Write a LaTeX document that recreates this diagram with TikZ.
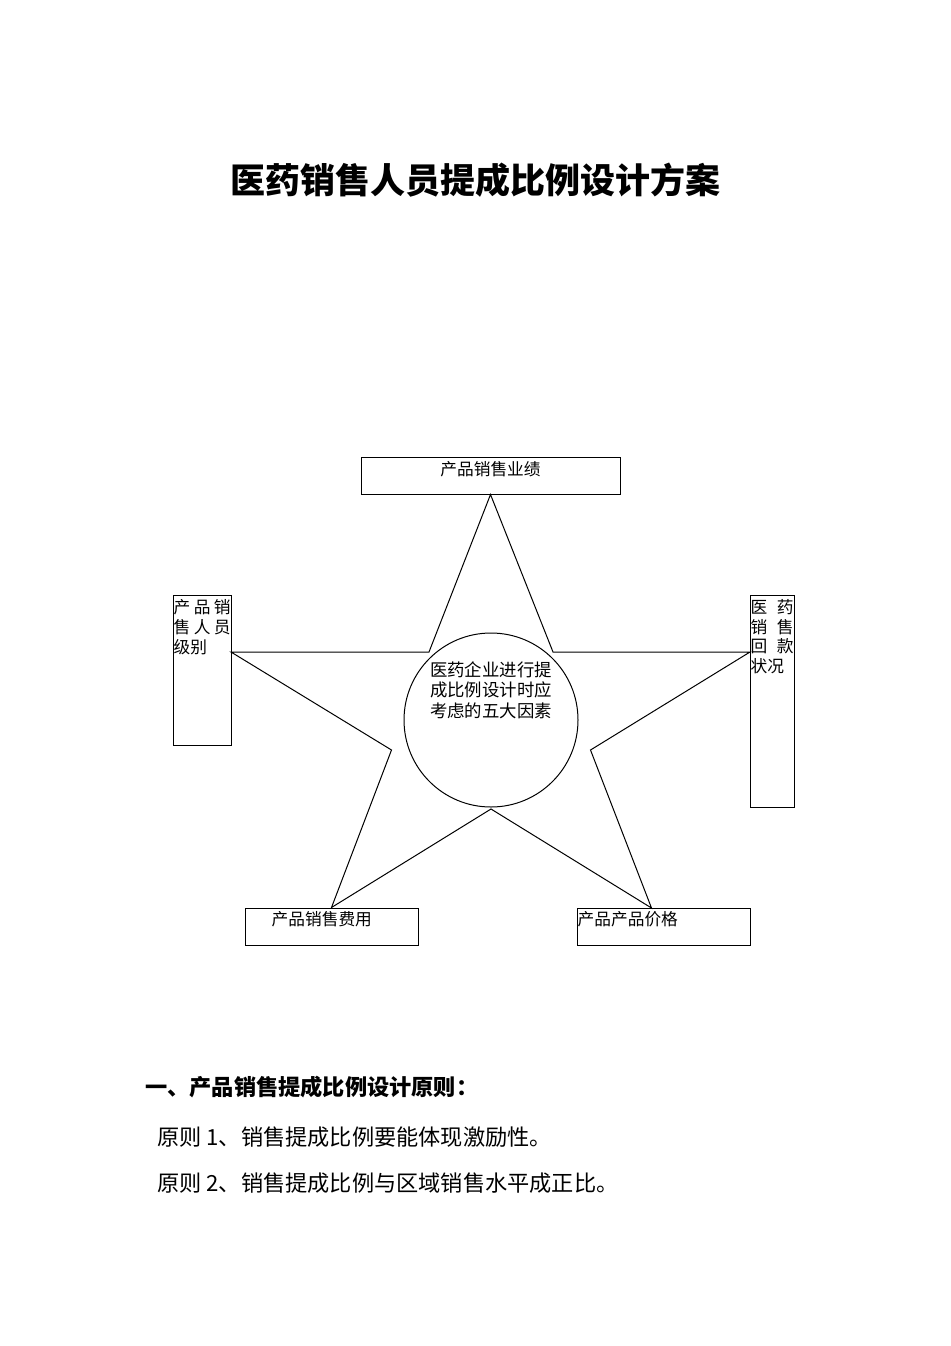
\documentclass[tikz,border=0pt]{standalone}
\usepackage{fontspec}
\setmainfont{Noto Sans CJK SC}

\begin{document}
\begin{tikzpicture}[x=1pt,y=-1pt]
    \tikzstyle{box}=[rectangle,draw,line width=1pt,inner sep=0pt]
    \tikzstyle{lbl}=[inner sep=0pt,font=\fontsize{16.7}{20}\selectfont]
    \tikzstyle{para}=[anchor=west,inner sep=0pt,font=\fontsize{22.2}{26}\selectfont]
    \useasboundingbox (0,0) rectangle (950,1346);
    \node[font=\fontsize{35}{40}\selectfont\bfseries] (title) at (475,180) {医药销售人员提成比例设计方案};
    % the five factors round the star
    \node[box,minimum width=259pt,minimum height=37pt,
      label={[lbl,anchor=north,yshift=-5pt]north:产品销售业绩}] (perf) at (490.5,475.5) {};
    \node[box,minimum width=58pt,minimum height=150pt,
      label={[lbl,anchor=north west,text width=57pt,align=left,xshift=1pt,yshift=-5pt]north west:产\hfill 品\hfill 销\\售\hfill 人\hfill 员\\级别}] (rank) at (202,670) {};
    \node[box,minimum width=44pt,minimum height=212pt,
      label={[lbl,anchor=north west,text width=43pt,align=left,xshift=1pt,yshift=-5pt,font=\fontsize{16.7}{19.5}\selectfont]north west:医\hfill 药\\销\hfill 售\\回\hfill 款\\状况}] (refund) at (772,701) {};
    \node[box,minimum width=173pt,minimum height=37pt,
      label={[lbl,anchor=north west,xshift=27pt,yshift=-4pt]north west:产品销售费用}] (cost) at (331.5,926.5) {};
    \node[box,minimum width=173pt,minimum height=37pt,
      label={[lbl,anchor=north west,xshift=1pt,yshift=-4pt]north west:产品产品价格}] (price) at (663.5,926.5) {};
    \node[circle,draw,line width=1pt,minimum size=174pt,inner sep=0pt,
      label={[lbl,align=center,yshift=30pt,font=\fontsize{17.4}{20.5}\selectfont]center:医药企业进行提\\成比例设计时应\\考虑的五大因素}] (core) at (491,720) {};
    % star
    \coordinate (ul) at (429,652);
    \coordinate (lt) at (231,652);
    \coordinate (ll) at (391.5,750);
    \coordinate (bm) at (491,809);
    \coordinate (br) at (651.5,908);
    \coordinate (lr) at (590.5,750);
    \coordinate (rt) at (750,652);
    \coordinate (ur) at (553,652);
    \draw[line width=1pt] (perf.south) -- (ul) -- (lt) -- (ll) -- (cost.north) -- (bm)
      -- (br) -- (lr) -- (rt) -- (ur) -- cycle;
    % principles
    \node[para,font=\fontsize{22.2}{26}\selectfont\bfseries] (head) at (145,1087) {一、产品销售提成比例设计原则：};
    \node[para] (rule1) at (157,1137) {原则 1、销售提成比例要能体现激励性。};
    \node[para] (rule2) at (157,1183) {原则 2、销售提成比例与区域销售水平成正比。};
\end{tikzpicture}
\end{document}
